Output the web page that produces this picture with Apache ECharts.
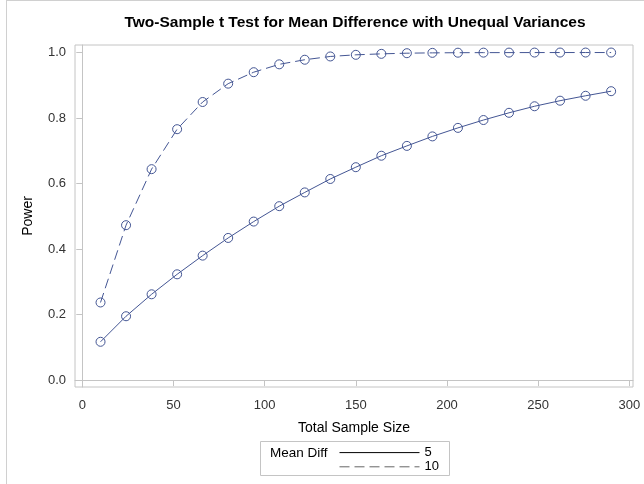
<!DOCTYPE html>
<html>
<head>
<meta charset="utf-8">
<script src="https://cdn.jsdelivr.net/npm/echarts@6/dist/echarts.min.js"></script>
<style>html,body{margin:0;padding:0;background:#fff;}#chart{width:644px;height:484px;}</style>
</head>
<body>
<div id="chart"></div>
<script>
var sampleSizes = [10, 24, 38, 52, 66, 80, 94, 108, 122, 136, 150, 164, 178, 192, 206, 220, 234, 248, 262, 276, 290];
var powerDiff5 = [0.117, 0.195, 0.262, 0.323, 0.380, 0.434, 0.484, 0.531, 0.573, 0.614, 0.650, 0.685, 0.715, 0.744, 0.770, 0.794, 0.816, 0.836, 0.853, 0.868, 0.882];
var powerDiff10 = [0.237, 0.473, 0.644, 0.766, 0.849, 0.905, 0.940, 0.964, 0.978, 0.988, 0.993, 0.996, 0.998, 0.999, 0.9995, 0.9997, 0.9998, 0.9999, 1.0, 1.0, 1.0];
var xTicks = [0, 50, 100, 150, 200, 250, 300];
var yTicks = [0, 0.2, 0.4, 0.6, 0.8, 1.0];
var seriesNames = ['5', '10'];

var FONT = '"Liberation Sans", Arial, sans-serif';
var BLUE = '#445694';

function pairs(xs, ys) { return xs.map(function (x, i) { return [x, ys[i]]; }); }

var chart = echarts.init(document.getElementById('chart'), null, {renderer: 'canvas'});
chart.setOption({
  animation: false,
  backgroundColor: '#fff',
  title: {
    text: 'Two-Sample t Test for Mean Difference with Unequal Variances',
    left: 355, top: 15, textAlign: 'center', padding: 0,
    textStyle: {fontFamily: FONT, fontSize: 15.5, fontWeight: 'bold', color: '#000'}
  },
  grid: {left: 75, right: 11, top: 45, bottom: 97, show: true, borderColor: '#c4c4c4', borderWidth: 1},
  xAxis: {
    type: 'value', min: -4, max: 302,
    name: 'Total Sample Size', nameLocation: 'middle', nameGap: 34,
    nameTextStyle: {fontFamily: FONT, fontSize: 14, color: '#000'},
    axisLine: {show: true, lineStyle: {color: '#c4c4c4'}},
    axisTick: {show: true, length: 6, lineStyle: {color: '#c4c4c4'}, customValues: xTicks},
    axisLabel: {customValues: xTicks, fontFamily: FONT, fontSize: 13, color: '#333', margin: 12},
    splitLine: {show: false}
  },
  yAxis: {
    type: 'value', min: -0.021, max: 1.023,
    name: 'Power', nameLocation: 'middle', nameGap: 40,
    nameTextStyle: {fontFamily: FONT, fontSize: 14, color: '#000'},
    axisLine: {show: true, lineStyle: {color: '#c4c4c4'}},
    axisTick: {show: true, length: 6, lineStyle: {color: '#c4c4c4'}, customValues: yTicks},
    axisLabel: {customValues: yTicks, fontFamily: FONT, fontSize: 13, color: '#333', margin: 9,
      formatter: function (v) { return v.toFixed(1); }},
    splitLine: {show: false}
  },
  legend: {
    orient: 'vertical', left: 339, top: 446, itemGap: 1, padding: 0,
    itemWidth: 80, itemHeight: 14,
    textStyle: {fontFamily: FONT, fontSize: 13, color: '#000'},
    data: [
      {name: seriesNames[0], itemStyle: {opacity: 0}, lineStyle: {color: '#000', width: 1, type: 'solid'}},
      {name: seriesNames[1], itemStyle: {opacity: 0}, lineStyle: {color: '#666', width: 1, type: [10, 5]}}
    ]
  },
  graphic: [
    {type: 'line', silent: true, shape: {x1: 6.5, y1: 0, x2: 6.5, y2: 484}, style: {stroke: '#d0d0d0', lineWidth: 1}},
    {type: 'line', silent: true, shape: {x1: 6, y1: 0.5, x2: 644, y2: 0.5}, style: {stroke: '#d0d0d0', lineWidth: 1}},
    {type: 'rect', silent: true, shape: {x: 260.5, y: 441.5, width: 189, height: 34}, style: {fill: 'none', stroke: '#c4c4c4', lineWidth: 1}},
    {type: 'text', silent: true, x: 270, y: 453, style: {text: 'Mean Diff', font: '13.5px ' + FONT, fill: '#000', verticalAlign: 'middle'}}
  ],
  series: [
    {
      name: seriesNames[0], type: 'line', data: pairs(sampleSizes, powerDiff5),
      symbol: 'circle', symbolSize: 9,
      lineStyle: {color: BLUE, width: 1, type: 'solid'},
      itemStyle: {color: 'rgba(0,0,0,0)', borderColor: BLUE, borderWidth: 1}
    },
    {
      name: seriesNames[1], type: 'line', data: pairs(sampleSizes, powerDiff10),
      symbol: 'circle', symbolSize: 9,
      lineStyle: {color: BLUE, width: 1, type: [10, 5]},
      itemStyle: {color: 'rgba(0,0,0,0)', borderColor: BLUE, borderWidth: 1}
    }
  ]
});
</script>
</body>
</html>
